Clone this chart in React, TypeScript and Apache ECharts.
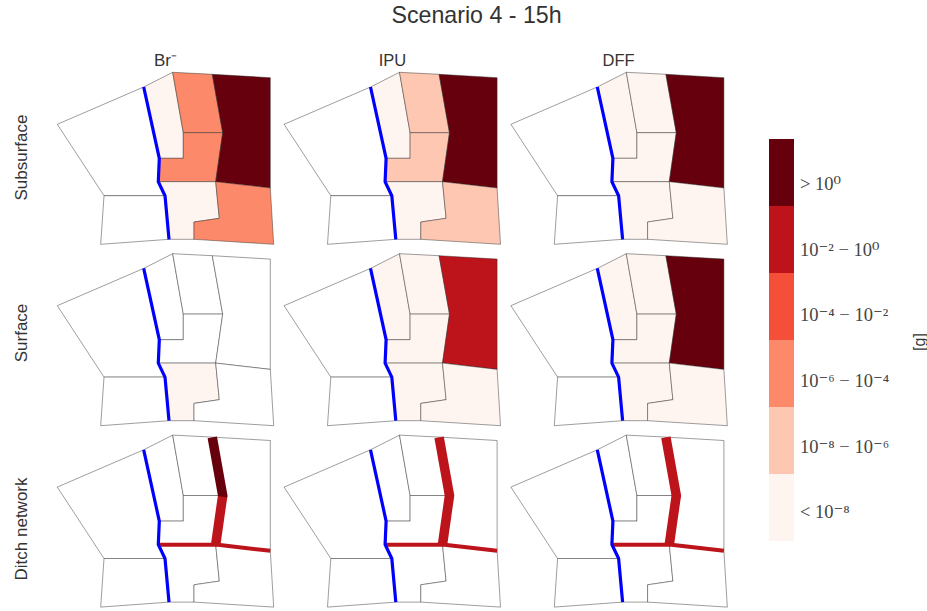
import React, { useEffect, useRef } from "react";
import * as echarts from "echarts";

const TITLE = "Scenario 4 - 15h";
const COLUMNS = ["Br⁻", "IPU", "DFF"];
const ROWS = ["Subsurface", "Surface", "Ditch network"];
const BIN_LABELS = ["< 10⁻⁸", "10⁻⁸ − 10⁻⁶", "10⁻⁶ − 10⁻⁴", "10⁻⁴ − 10⁻²", "10⁻² − 10⁰", "> 10⁰"];
const BIN_COLORS = ["#fff5f0", "#fdc7b2", "#fc8a6a", "#f44f39", "#bc141a", "#67000d"];

// Map geometry in map units
const west = [[7.3, 58.3], [93.7, 21], [109.3, 92.3], [108.3, 115.7], [115, 129.7], [54, 129.7]];
const southWest = [[54, 129.7], [115, 129.7], [119, 173.3], [50.7, 178.3]];
const c1 = [[93.7, 21], [122.7, 6.3], [133.3, 66.7], [133.3, 92.3], [109.3, 92.3]];
const c2 = [[122.7, 6.3], [162.3, 8.3], [172.7, 66.7], [133.3, 66.7]];
const c3 = [[133.3, 66.7], [172.7, 66.7], [165.7, 115.7], [108.3, 115.7], [109.3, 92.3], [133.3, 92.3]];
const c4 = [[162.3, 8.3], [220.3, 11.7], [220.3, 122], [165.7, 115.7], [172.7, 66.7]];
const c5 = [[108.3, 115.7], [165.7, 115.7], [169.3, 152.3], [144, 156], [144, 173.3], [119, 173.3], [115, 129.7]];
const c6 = [[165.7, 115.7], [220.3, 122], [223.7, 178.3], [144, 173.3], [144, 156], [169.3, 152.3]];
const CELLS = [west, southWest, c1, c2, c3, c4, c5, c6];

const river = [[93.7, 21], [109.3, 92.3], [108.3, 115.7], [115, 129.7], [119, 173.3]];
const ditchMiddle = [[172.7, 66.7], [165.7, 115.7]];
const ditchNorth = [[162.3, 8.5], [172.7, 66.7], [172.5, 68]];
const ditchWest = [[167, 115.9], [108.5, 115.9]];
const ditchEast = [[165.7, 115.7], [220.3, 122]];
const DITCHES = [ditchMiddle, ditchNorth, ditchWest, ditchEast];
const DITCH_WIDTHS = [9.5, 9.5, 4, 4];

// Colour-bin index per cell (same order as CELLS); null = no fill
const subsurfaceBr = [null, null, 0, 2, 2, 5, 0, 2];
const subsurfaceIPU = [null, null, 0, 1, 1, 5, 0, 1];
const subsurfaceDFF = [null, null, 0, 0, 0, 5, 0, 0];
const surfaceBr = [null, null, null, null, null, null, 0, null];
const surfaceIPU = [null, null, 0, 0, 0, 4, 0, 0];
const surfaceDFF = [null, null, 0, 0, 0, 5, 0, 0];
const noCells = [null, null, null, null, null, null, null, null];
const CELL_LEVELS = [
  [subsurfaceBr, subsurfaceIPU, subsurfaceDFF],
  [surfaceBr, surfaceIPU, surfaceDFF],
  [noCells, noCells, noCells],
];
// Colour-bin index per ditch reach (same order as DITCHES)
const ditchBr = [4, 5, 4, 4];
const ditchIPU = [4, 4, 4, 4];
const ditchDFF = [4, 4, 4, 4];
const DITCH_LEVELS = [ditchBr, ditchIPU, ditchDFF];

const FONT = '"Liberation Sans", Arial, sans-serif';
const INK = "#333333";

function buildOption() {
  const grids: any[] = [];
  const xAxes: any[] = [];
  const yAxes: any[] = [];
  const series: any[] = [];
  ROWS.forEach((_, r) => {
    COLUMNS.forEach((_, c) => {
      const idx = grids.length;
      grids.push({ left: 50 + c * 226.8, top: 66 + r * 181.4, width: 226, height: 180 });
      xAxes.push({ type: "value", gridIndex: idx, min: 0, max: 226, show: false });
      yAxes.push({ type: "value", gridIndex: idx, min: 0, max: 180, inverse: true, show: false });
      const levels = CELL_LEVELS[r][c];
      series.push({
        type: "custom",
        xAxisIndex: idx,
        yAxisIndex: idx,
        clip: false,
        data: CELLS.map((_, i) => [i, levels[i] === null ? -1 : levels[i]]),
        encode: { x: 0, y: 1 },
        renderItem: (_p: any, api: any) => {
          const cell = CELLS[api.value(0) as number];
          const level = api.value(1) as number;
          return {
            type: "polygon",
            shape: { points: cell.map((pt) => api.coord(pt)) },
            style: {
              fill: level < 0 ? "#ffffff" : BIN_COLORS[level],
              stroke: "rgba(40,40,40,0.5)",
              lineWidth: 0.9,
            },
          };
        },
      });
      if (r === 2) {
        DITCHES.forEach((d, i) => {
          series.push({
            type: "line",
            xAxisIndex: idx,
            yAxisIndex: idx,
            data: d,
            symbol: "none",
            clip: false,
            z: 3,
            lineStyle: { color: BIN_COLORS[DITCH_LEVELS[c][i]], width: DITCH_WIDTHS[i], cap: "butt", join: "miter" },
          });
        });
      }
      series.push({
        type: "line",
        xAxisIndex: idx,
        yAxisIndex: idx,
        data: river,
        symbol: "none",
        clip: false,
        z: 4,
        lineStyle: { color: "#0000ff", width: 3.2, join: "round" },
      });
    });
  });

  // Colour bar
  const barIdx = grids.length;
  grids.push({ left: 769, top: 139, width: 25, height: 402 });
  xAxes.push({ type: "value", gridIndex: barIdx, min: 0, max: 1, show: false });
  yAxes.push({ type: "category", gridIndex: barIdx, data: BIN_LABELS, show: false });
  series.push({
    type: "bar",
    xAxisIndex: barIdx,
    yAxisIndex: barIdx,
    barCategoryGap: 0,
    barWidth: "100%",
    data: BIN_COLORS.map((color) => ({ value: 1, itemStyle: { color } })),
  });
  // Tick labels of the colour bar sit on their own, slightly tighter scale
  const labelIdx = grids.length;
  grids.push({ left: 769, top: 151, width: 25, height: 394 });
  xAxes.push({ type: "value", gridIndex: labelIdx, min: 0, max: 1, show: false });
  yAxes.push({
    type: "category",
    gridIndex: labelIdx,
    position: "right",
    data: BIN_LABELS,
    axisLine: { show: false },
    axisTick: { show: false },
    axisLabel: {
      margin: 6,
      fontFamily: '"Liberation Serif", "DejaVu Serif", serif',
      fontSize: 18.5,
      color: "#444444",
      align: "left",
    },
  });
  series.push({ type: "bar", xAxisIndex: labelIdx, yAxisIndex: labelIdx, data: [], silent: true });

  const text = (t: string, x: number, y: number, size: number, rotation = 0) => ({
    type: "text",
    x,
    y,
    rotation,
    style: { text: t, fill: INK, font: `${size}px ${FONT}`, textAlign: "center", textVerticalAlign: "middle" },
  });
  const graphic = [
    text(TITLE, 476.5, 15, 23.2),
    text(COLUMNS[0], 165.5, 60, 17),
    text(COLUMNS[1], 392.5, 60, 16.5),
    text(COLUMNS[2], 618.5, 60, 16.5),
    text(ROWS[0], 21, 157.5, 17, Math.PI / 2),
    text(ROWS[1], 21, 333, 17, Math.PI / 2),
    text(ROWS[2], 21, 529, 17, Math.PI / 2),
    text("[g]", 919, 342, 16, Math.PI / 2),
  ];

  return { animation: false, backgroundColor: "#ffffff", grid: grids, xAxis: xAxes, yAxis: yAxes, series, graphic };
}

export default function App() {
  const ref = useRef<HTMLDivElement>(null);
  useEffect(() => {
    const chart = echarts.init(ref.current!, undefined, { renderer: "svg" });
    chart.setOption(buildOption() as any);
    return () => chart.dispose();
  }, []);
  return <div ref={ref} style={{ position: "absolute", left: 0, top: 0, width: 927, height: 611 }} />;
}
